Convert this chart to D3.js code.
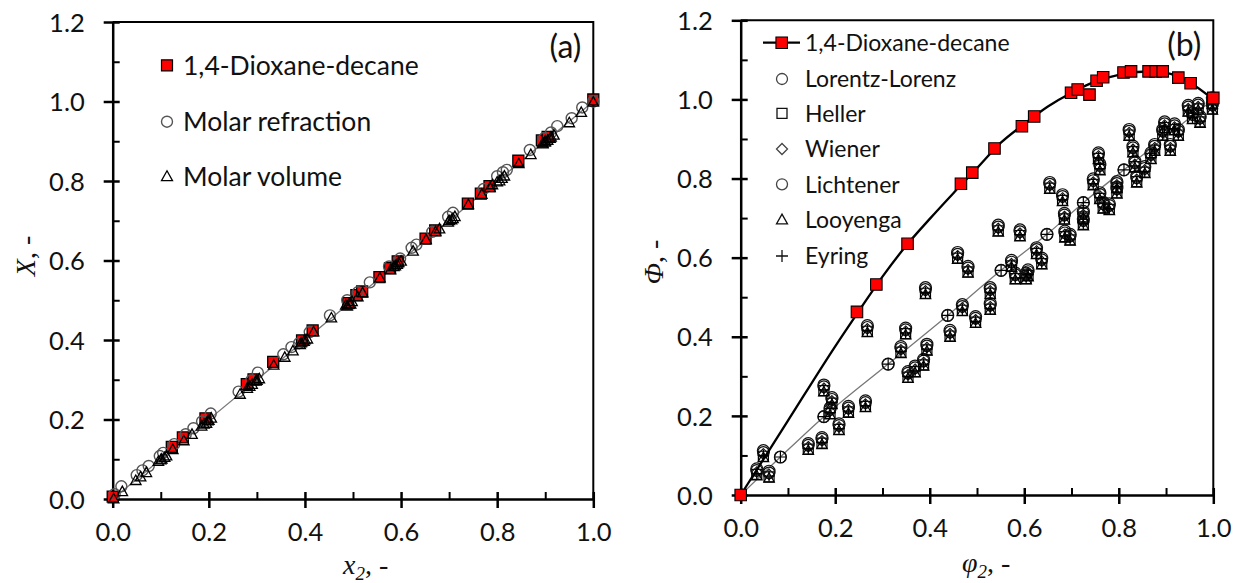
<!DOCTYPE html>
<html>
<head>
<meta charset="utf-8">
<script src="https://cdn.jsdelivr.net/npm/d3@7"></script>
<style>
  body { margin: 0; background: #fff; }
  svg text { font-family: Lato, "Open Sans", sans-serif; fill: #111; }
  svg text.axis-title { font-family: "Liberation Serif", "DejaVu Serif", serif; }
</style>
</head>
<body>
<svg id="chart" width="1248" height="583"></svg>
<script>
// ---------- shared tick definitions ----------
const xTickValues = [0, 0.2, 0.4, 0.6, 0.8, 1.0];
const xTickLabels = ["0.0", "0.2", "0.4", "0.6", "0.8", "1.0"];
const xMinorValues = [0.1, 0.3, 0.5, 0.7, 0.9];
const yTickValues = [0, 0.2, 0.4, 0.6, 0.8, 1.0, 1.2];
const yTickLabels = ["0.0", "0.2", "0.4", "0.6", "0.8", "1.0", "1.2"];
const yMinorValues = [0.1, 0.3, 0.5, 0.7, 0.9, 1.1];

// ---------- panel (a): X vs x2 ----------
const legendA = ["1,4-Dioxane-decane", "Molar refraction", "Molar volume"];
const diagonalA = [0, 1];
const dioxaneXa = [0, 0.123, 0.146, 0.193, 0.279, 0.293, 0.334, 0.394, 0.416, 0.490, 0.507, 0.519, 0.555, 0.577, 0.593, 0.651, 0.671, 0.739, 0.766, 0.784, 0.844, 0.893, 0.905, 1.000];
const dioxaneYa = [0.006, 0.131, 0.155, 0.203, 0.289, 0.301, 0.345, 0.399, 0.424, 0.493, 0.513, 0.522, 0.558, 0.581, 0.598, 0.655, 0.676, 0.743, 0.768, 0.787, 0.851, 0.902, 0.911, 1.005];
const refractionX = [0.004, 0.018, 0.050, 0.062, 0.075, 0.098, 0.105, 0.128, 0.152, 0.168, 0.186, 0.204, 0.262, 0.288, 0.302, 0.355, 0.372, 0.388, 0.410, 0.452, 0.488, 0.510, 0.535, 0.575, 0.598, 0.622, 0.632, 0.665, 0.698, 0.708, 0.772, 0.800, 0.812, 0.820, 0.868, 0.898, 0.912, 0.925, 0.955, 0.977, 1.000];
const refractionY = [0.012, 0.032, 0.060, 0.072, 0.083, 0.108, 0.116, 0.138, 0.163, 0.178, 0.195, 0.215, 0.270, 0.298, 0.318, 0.364, 0.382, 0.392, 0.420, 0.462, 0.500, 0.520, 0.545, 0.585, 0.605, 0.632, 0.640, 0.672, 0.710, 0.720, 0.780, 0.812, 0.822, 0.828, 0.878, 0.908, 0.922, 0.938, 0.958, 0.985, 1.000];
const volumeX = [0.002, 0.020, 0.048, 0.058, 0.070, 0.095, 0.100, 0.102, 0.108, 0.112, 0.125, 0.148, 0.165, 0.185, 0.190, 0.195, 0.198, 0.200, 0.205, 0.265, 0.280, 0.285, 0.290, 0.298, 0.300, 0.305, 0.335, 0.358, 0.375, 0.390, 0.392, 0.398, 0.400, 0.405, 0.418, 0.455, 0.485, 0.488, 0.492, 0.495, 0.498, 0.510, 0.520, 0.556, 0.578, 0.585, 0.588, 0.592, 0.595, 0.600, 0.625, 0.652, 0.672, 0.680, 0.698, 0.700, 0.705, 0.708, 0.712, 0.740, 0.768, 0.785, 0.790, 0.800, 0.805, 0.810, 0.815, 0.845, 0.870, 0.895, 0.895, 0.900, 0.900, 0.905, 0.910, 0.912, 0.918, 0.950, 0.975, 1.000];
const volumeY = [0.000, 0.018, 0.046, 0.055, 0.066, 0.094, 0.098, 0.100, 0.104, 0.108, 0.124, 0.146, 0.162, 0.183, 0.188, 0.190, 0.196, 0.197, 0.203, 0.263, 0.278, 0.283, 0.288, 0.296, 0.298, 0.302, 0.336, 0.356, 0.372, 0.388, 0.392, 0.396, 0.400, 0.402, 0.420, 0.455, 0.487, 0.485, 0.490, 0.490, 0.496, 0.508, 0.518, 0.556, 0.576, 0.584, 0.586, 0.590, 0.594, 0.598, 0.623, 0.652, 0.672, 0.679, 0.696, 0.700, 0.702, 0.705, 0.710, 0.740, 0.766, 0.783, 0.790, 0.797, 0.800, 0.806, 0.812, 0.843, 0.866, 0.893, 0.895, 0.897, 0.900, 0.902, 0.907, 0.910, 0.915, 0.946, 0.972, 0.998];

// ---------- panel (b): Phi vs phi2 ----------
const legendB = ["1,4-Dioxane-decane", "Lorentz-Lorenz", "Heller", "Wiener", "Lichtener", "Looyenga", "Eyring"];
const dioxaneXb = [0, 0.246, 0.287, 0.353, 0.466, 0.490, 0.537, 0.595, 0.621, 0.699, 0.713, 0.738, 0.753, 0.767, 0.810, 0.826, 0.863, 0.878, 0.893, 0.926, 0.952, 1.000];
const dioxaneYb = [0, 0.463, 0.532, 0.635, 0.787, 0.815, 0.876, 0.932, 0.957, 1.017, 1.025, 1.012, 1.047, 1.056, 1.068, 1.071, 1.071, 1.071, 1.071, 1.055, 1.041, 1.004];
const fitX = [0, 0.10, 0.20, 0.25, 0.30, 0.35, 0.40, 0.45, 0.50, 0.55, 0.60, 0.65, 0.70, 0.75, 0.80, 0.85, 0.90, 0.95, 1.00];
const fitY = [0, 0.188, 0.376, 0.465, 0.552, 0.630, 0.698, 0.763, 0.826, 0.890, 0.938, 0.982, 1.017, 1.045, 1.062, 1.070, 1.067, 1.043, 1.000];
const refLineX = [0, 0.084, 0.176, 0.312, 0.438, 0.551, 0.648, 0.725, 0.811, 1.000];
const refLineY = [0, 0.096, 0.198, 0.331, 0.454, 0.568, 0.659, 0.739, 0.822, 1.000];
const phi2 = [0.034, 0.048, 0.060, 0.084, 0.143, 0.172, 0.176, 0.176, 0.193, 0.189, 0.208, 0.228, 0.264, 0.268, 0.312, 0.339, 0.349, 0.354, 0.369, 0.387, 0.394, 0.391, 0.438, 0.443, 0.459, 0.469, 0.481, 0.497, 0.528, 0.528, 0.545, 0.551, 0.573, 0.581, 0.591, 0.604, 0.608, 0.626, 0.637, 0.648, 0.654, 0.681, 0.685, 0.686, 0.697, 0.725, 0.725, 0.725, 0.746, 0.757, 0.760, 0.760, 0.767, 0.780, 0.796, 0.796, 0.811, 0.822, 0.830, 0.834, 0.838, 0.855, 0.868, 0.876, 0.893, 0.897, 0.909, 0.918, 0.926, 0.947, 0.956, 0.968, 0.972, 0.998, 0.998];
const lorentzLorenz = [0.066, 0.112, 0.060, 0.096, 0.130, 0.145, 0.278, 0.198, 0.246, 0.220, 0.180, 0.224, 0.238, 0.428, 0.331, 0.375, 0.422, 0.312, 0.326, 0.343, 0.381, 0.524, 0.454, 0.416, 0.613, 0.481, 0.578, 0.451, 0.524, 0.484, 0.682, 0.568, 0.593, 0.561, 0.670, 0.561, 0.569, 0.625, 0.599, 0.659, 0.790, 0.759, 0.712, 0.667, 0.659, 0.739, 0.717, 0.698, 0.799, 0.865, 0.837, 0.764, 0.740, 0.736, 0.792, 0.778, 0.822, 0.924, 0.882, 0.844, 0.806, 0.830, 0.865, 0.886, 0.924, 0.943, 0.886, 0.938, 0.924, 0.985, 0.966, 0.990, 0.957, 1.004, 0.990];
const heller = [0.052, 0.098, 0.046, null, 0.116, 0.131, 0.264, null, 0.232, 0.206, 0.166, 0.210, 0.224, 0.414, null, 0.361, 0.408, 0.298, 0.312, 0.329, 0.367, 0.510, null, 0.402, 0.599, 0.467, 0.564, 0.437, 0.510, 0.470, 0.668, null, 0.579, 0.547, 0.656, 0.547, 0.555, 0.611, 0.585, null, 0.776, 0.745, 0.698, 0.653, 0.645, null, 0.703, 0.684, 0.785, 0.851, 0.823, 0.750, 0.726, 0.722, 0.778, 0.764, null, 0.910, 0.868, 0.830, 0.792, 0.816, 0.851, 0.872, 0.910, 0.929, 0.872, 0.924, 0.910, 0.971, 0.952, 0.976, 0.943, 0.990, 0.976];
const wiener = [0.058, 0.104, 0.052, null, 0.122, 0.137, 0.270, null, 0.238, 0.212, 0.172, 0.216, 0.230, 0.420, null, 0.367, 0.414, 0.304, 0.318, 0.335, 0.373, 0.516, null, 0.408, 0.605, 0.473, 0.570, 0.443, 0.516, 0.476, 0.674, null, 0.585, 0.553, 0.662, 0.553, 0.561, 0.617, 0.591, null, 0.782, 0.751, 0.704, 0.659, 0.651, null, 0.709, 0.690, 0.791, 0.857, 0.829, 0.756, 0.732, 0.728, 0.784, 0.770, null, 0.916, 0.874, 0.836, 0.798, 0.822, 0.857, 0.878, 0.916, 0.935, 0.878, 0.930, 0.916, 0.977, 0.958, 0.982, 0.949, 0.996, 0.982];
const lichtener = [0.062, 0.108, 0.056, 0.096, 0.126, 0.141, 0.274, 0.198, 0.242, 0.216, 0.176, 0.220, 0.234, 0.424, 0.331, 0.371, 0.418, 0.308, 0.322, 0.339, 0.377, 0.520, 0.454, 0.412, 0.609, 0.477, 0.574, 0.447, 0.520, 0.480, 0.678, 0.568, 0.589, 0.557, 0.666, 0.557, 0.565, 0.621, 0.595, 0.659, 0.786, 0.755, 0.708, 0.663, 0.655, 0.739, 0.713, 0.694, 0.795, 0.861, 0.833, 0.760, 0.736, 0.732, 0.788, 0.774, 0.822, 0.920, 0.878, 0.840, 0.802, 0.826, 0.861, 0.882, 0.920, 0.939, 0.882, 0.934, 0.920, 0.981, 0.962, 0.986, 0.953, 1.000, 0.986];
const looyenga = [0.048, 0.094, 0.042, null, 0.112, 0.127, 0.260, null, 0.228, 0.202, 0.162, 0.206, 0.220, 0.410, null, 0.357, 0.404, 0.294, 0.308, 0.325, 0.363, 0.506, null, 0.398, 0.595, 0.463, 0.560, 0.433, 0.506, 0.466, 0.664, null, 0.575, 0.543, 0.652, 0.543, 0.551, 0.607, 0.581, null, 0.772, 0.741, 0.694, 0.649, 0.641, null, 0.699, 0.680, 0.781, 0.847, 0.819, 0.746, 0.722, 0.718, 0.774, 0.760, null, 0.906, 0.864, 0.826, 0.788, 0.812, 0.847, 0.868, 0.906, 0.925, 0.868, 0.920, 0.906, 0.967, 0.948, 0.972, 0.939, 0.986, 0.972];
const eyring = [0.054, 0.100, 0.048, 0.096, 0.118, 0.133, 0.266, 0.198, 0.234, 0.208, 0.168, 0.212, 0.226, 0.416, 0.331, 0.363, 0.410, 0.300, 0.314, 0.331, 0.369, 0.512, 0.454, 0.404, 0.601, 0.469, 0.566, 0.439, 0.512, 0.472, 0.670, 0.568, 0.581, 0.549, 0.658, 0.549, 0.557, 0.613, 0.587, 0.659, 0.778, 0.747, 0.700, 0.655, 0.647, 0.739, 0.705, 0.686, 0.787, 0.853, 0.825, 0.752, 0.728, 0.724, 0.780, 0.766, 0.822, 0.912, 0.870, 0.832, 0.794, 0.818, 0.853, 0.874, 0.912, 0.931, 0.874, 0.926, 0.912, 0.973, 0.954, 0.978, 0.945, 0.992, 0.978];

// ---------- marker shapes ----------
const shape = {
  square: s => `M${-s / 2},${-s / 2}h${s}v${s}h${-s}Z`,
  circle: s => { const r = s / 2; return `M${-r},0a${r},${r} 0 1,0 ${2 * r},0a${r},${r} 0 1,0 ${-2 * r},0Z`; },
  triangle: s => { const h = s * 0.9; return `M0,${-h * 0.6}L${s / 2},${h * 0.4}L${-s / 2},${h * 0.4}Z`; },
  diamond: s => `M0,${-s / 2}L${s / 2},0L0,${s / 2}L${-s / 2},0Z`,
  plus: s => `M${-s / 2},0H${s / 2}M0,${-s / 2}V${s / 2}`
};

const svg = d3.select("#chart");

function zip(xs, ys) {
  return xs.map((x, i) => ({ x, y: ys[i] })).filter(d => d.y !== null);
}

function drawMarkers(g, x, y, data, kind, size, style) {
  g.append("g").selectAll("path").data(data).join("path")
    .attr("transform", d => `translate(${x(d.x)},${y(d.y)})`)
    .attr("d", shape[kind](size))
    .attr("fill", style.fill || "none")
    .attr("stroke", style.stroke)
    .attr("stroke-width", style.width || 1);
}

function drawFrame(box, titleX, titleY, tag) {
  const g = svg.append("g");
  const x = d3.scaleLinear().domain([0, 1]).range([box.left, box.right]);
  const y = d3.scaleLinear().domain([0, 1.2]).range([box.bottom, box.top]);

  // top and right border
  g.append("path")
    .attr("d", `M${box.left},${box.top}H${box.right}V${box.bottom}`)
    .attr("fill", "none").attr("stroke", "#000").attr("stroke-width", 2);

  // minor ticks (inside only)
  const xm = g.append("g").attr("transform", `translate(0,${box.bottom})`)
    .call(d3.axisBottom(x).tickValues(xMinorValues).tickSize(-7).tickFormat(""));
  const ym = g.append("g").attr("transform", `translate(${box.left},0)`)
    .call(d3.axisLeft(y).tickValues(yMinorValues).tickSize(-7).tickFormat(""));
  [xm, ym].forEach(a => { a.select(".domain").remove(); a.selectAll("line").attr("stroke", "#000").attr("stroke-width", 2); });

  // major ticks crossing the axis
  const xa = g.append("g").attr("transform", `translate(0,${box.bottom})`)
    .call(d3.axisBottom(x).tickValues(xTickValues).tickSizeInner(9).tickSizeOuter(0)
      .tickPadding(15).tickFormat((d, i) => xTickLabels[i]));
  xa.selectAll(".tick line").attr("y1", -7);
  const ya = g.append("g").attr("transform", `translate(${box.left},0)`)
    .call(d3.axisLeft(y).tickValues(yTickValues).tickSizeInner(9).tickSizeOuter(0)
      .tickPadding(19).tickFormat((d, i) => yTickLabels[i]));
  ya.selectAll(".tick line").attr("x1", 7);
  [xa, ya].forEach(a => {
    a.select(".domain").attr("stroke", "#000").attr("stroke-width", 2.5);
    a.selectAll(".tick line").attr("stroke", "#000").attr("stroke-width", 2.5);
    a.selectAll("text").attr("font-size", 25.5).attr("font-family", "Lato").attr("fill", "#111");
  });
  ya.selectAll("text").attr("dy", "0.36em");

  // panel tag
  g.append("text").attr("x", box.right - 12).attr("y", box.top + 24)
    .attr("text-anchor", "end").attr("dy", "0.36em")
    .attr("font-size", 32).text(tag);

  // axis titles
  const xt = g.append("text").attr("class", "axis-title")
    .attr("x", titleX.x).attr("y", titleX.y).attr("font-size", 28);
  xt.append("tspan").attr("font-style", "italic").text(titleX.main);
  xt.append("tspan").attr("font-style", "italic").attr("font-size", 19).attr("dy", 6).text("2");
  xt.append("tspan").attr("dy", -6).text(", -");

  const yt = g.append("text").attr("class", "axis-title")
    .attr("transform", `translate(${titleY.x},${titleY.y}) rotate(-90)`)
    .attr("text-anchor", "middle").attr("font-size", 28);
  yt.append("tspan").attr("font-style", "italic").text(titleY.main);
  yt.append("tspan").text(", -");

  return { g, x, y };
}

// ===== panel (a) =====
const boxA = { left: 112.7, right: 593.3, top: 22, bottom: 499 };
const A = drawFrame(boxA, { x: 343, y: 574, main: "x" }, { x: 35, y: 256, main: "X" }, "(a)");

A.g.append("path")
  .attr("d", d3.line().x(d => A.x(d)).y(d => A.y(d))(diagonalA))
  .attr("fill", "none").attr("stroke", "#777").attr("stroke-width", 1.3);
drawMarkers(A.g, A.x, A.y, zip(dioxaneXa, dioxaneYa), "square", 11, { fill: "#ff0000", stroke: "#000", width: 1.3 });
drawMarkers(A.g, A.x, A.y, zip(refractionX, refractionY), "circle", 11, { stroke: "#555", width: 1.4 });
drawMarkers(A.g, A.x, A.y, zip(volumeX, volumeY), "triangle", 10.5, { stroke: "#000", width: 1.3 });

// legend (a)
const legAy = [65.3, 121.7, 176.7];
const legAkinds = [["square", { fill: "#ff0000", stroke: "#000", width: 1.2 }, 11],
                   ["circle", { stroke: "#555", width: 1.4 }, 11],
                   ["triangle", { stroke: "#000", width: 1.3 }, 11]];
legendA.forEach((name, i) => {
  const [kind, st, s] = legAkinds[i];
  A.g.append("path").attr("transform", `translate(167,${legAy[i]})`).attr("d", shape[kind](s))
    .attr("fill", st.fill || "none").attr("stroke", st.stroke).attr("stroke-width", st.width);
  A.g.append("text").attr("x", 183).attr("y", legAy[i]).attr("dy", "0.36em")
    .attr("font-size", 26.5).text(name);
});

// ===== panel (b) =====
const boxB = { left: 740.7, right: 1213.3, top: 20.3, bottom: 495 };
const B = drawFrame(boxB, { x: 962, y: 572, main: "φ" }, { x: 663, y: 262, main: "Φ" }, "(b)");

B.g.append("path")
  .attr("d", d3.line().x(d => B.x(d.x)).y(d => B.y(d.y)).curve(d3.curveMonotoneX)(zip(refLineX, refLineY)))
  .attr("fill", "none").attr("stroke", "#777").attr("stroke-width", 1.3);

const modelStyles = [
  [lorentzLorenz, "circle", 12, { stroke: "#111", width: 1.2 }],
  [heller, "square", 10, { stroke: "#000", width: 1.2 }],
  [wiener, "diamond", 10.5, { stroke: "#111", width: 1.1 }],
  [lichtener, "circle", 11.5, { stroke: "#111", width: 1.2 }],
  [looyenga, "triangle", 10.5, { stroke: "#000", width: 1.2 }],
  [eyring, "plus", 11.5, { stroke: "#000", width: 1.2 }]
];
modelStyles.forEach(([vals, kind, s, st]) => {
  drawMarkers(B.g, B.x, B.y, zip(phi2, vals), kind, s, st);
});

B.g.append("path")
  .attr("d", d3.line().x(d => B.x(d.x)).y(d => B.y(d.y)).curve(d3.curveMonotoneX)(zip(fitX, fitY)))
  .attr("fill", "none").attr("stroke", "#000").attr("stroke-width", 2.3);
drawMarkers(B.g, B.x, B.y, zip(dioxaneXb, dioxaneYb), "square", 11.5, { fill: "#ff0000", stroke: "#000", width: 1.1 });

// legend (b)
const legBy = [42.7, 79, 113.3, 149, 184.3, 220, 256];
const legBkinds = [null,
  ["circle", { stroke: "#444", width: 1.3 }, 11],
  ["square", { stroke: "#111", width: 1.3 }, 10],
  ["diamond", { stroke: "#444", width: 1.3 }, 11],
  ["circle", { stroke: "#444", width: 1.3 }, 11],
  ["triangle", { stroke: "#111", width: 1.3 }, 11],
  ["plus", { stroke: "#111", width: 1.3 }, 12]];
legendB.forEach((name, i) => {
  if (i === 0) {
    B.g.append("path").attr("d", `M763,${legBy[0]}H800`).attr("stroke", "#000").attr("stroke-width", 2.3);
    B.g.append("path").attr("transform", `translate(781.7,${legBy[0]})`).attr("d", shape.square(11.5))
      .attr("fill", "#ff0000").attr("stroke", "#000").attr("stroke-width", 1.1);
  } else {
    const [kind, st, s] = legBkinds[i];
    B.g.append("path").attr("transform", `translate(782,${legBy[i]})`).attr("d", shape[kind](s))
      .attr("fill", "none").attr("stroke", st.stroke).attr("stroke-width", st.width);
  }
  B.g.append("text").attr("x", 805).attr("y", legBy[i]).attr("dy", "0.36em")
    .attr("font-size", 23).text(name);
});
</script>
</body>
</html>
